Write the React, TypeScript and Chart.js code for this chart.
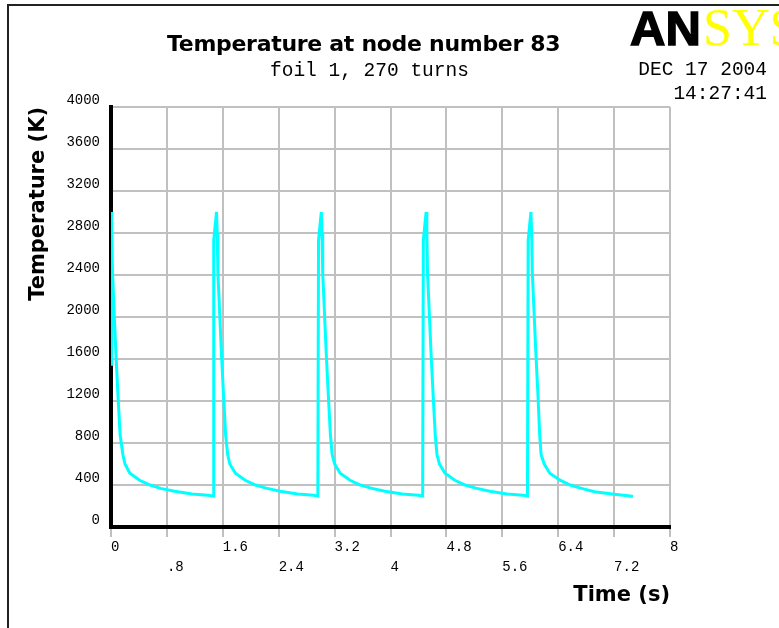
import React, { useEffect, useRef } from "react";
import { Chart, registerables } from "chart.js";

Chart.register(...registerables);

// ---- data (time in s, temperature in K) ----
const timeValues: number[] = [
  0, 0.005, 0.012, 0.022, 0.045, 0.07, 0.1, 0.13, 0.17, 0.2, 0.27, 0.41, 0.56, 0.71, 0.91, 1.16, 1.39, 1.46,
  1.47, 1.51, 1.52, 1.53, 1.555, 1.58, 1.61, 1.64, 1.67, 1.7, 1.78, 1.92, 2.07, 2.22, 2.42, 2.67, 2.9, 2.96,
  2.97, 3.01, 3.02, 3.03, 3.055, 3.08, 3.11, 3.14, 3.165, 3.2, 3.28, 3.42, 3.57, 3.72, 3.92, 4.17, 4.4, 4.46,
  4.47, 4.51, 4.52, 4.53, 4.555, 4.58, 4.61, 4.64, 4.665, 4.7, 4.78, 4.92, 5.07, 5.22, 5.42, 5.67, 5.9, 5.96,
  5.97, 6.01, 6.02, 6.03, 6.055, 6.08, 6.11, 6.135, 6.155, 6.2, 6.28, 6.42, 6.57, 6.72, 6.92, 7.17, 7.4, 7.47,
];
const tempValues: number[] = [
  1550, 3000, 2800, 2420, 2040, 1660, 1250, 880, 690, 600, 512, 445, 400, 368, 340, 314, 302, 296,
  2730, 3000, 2800, 2420, 2040, 1660, 1260, 880, 690, 600, 512, 445, 400, 370, 340, 314, 302, 296,
  2730, 3000, 2800, 2420, 2040, 1660, 1260, 880, 690, 600, 512, 445, 400, 370, 340, 314, 302, 296,
  2730, 3000, 2800, 2420, 2040, 1660, 1260, 880, 690, 600, 512, 445, 400, 370, 340, 314, 302, 296,
  2730, 3000, 2800, 2420, 2040, 1660, 1260, 880, 690, 600, 512, 448, 400, 370, 335, 314, 298, 290,
];

const xTickValues: number[] = [0, 0.8, 1.6, 2.4, 3.2, 4, 4.8, 5.6, 6.4, 7.2, 8];
const xTickLabels: string[] = ["0", ".8", "1.6", "2.4", "3.2", "4", "4.8", "5.6", "6.4", "7.2", "8"];
const yTickValues: number[] = [0, 400, 800, 1200, 1600, 2000, 2400, 2800, 3200, 3600, 4000];
const yTickLabels: string[] = ["0", "400", "800", "1200", "1600", "2000", "2400", "2800", "3200", "3600", "4000"];

const titleText = "Temperature at node number 83";
const subtitleText = "foil 1, 270 turns";
const dateText = "DEC 17 2004";
const timeText = "14:27:41";
const xTitle = "Time (s)";
const yTitle = "Temperature (K)";

export default function App() {
  const ref = useRef<HTMLCanvasElement | null>(null);

  useEffect(() => {
    const canvas = ref.current;
    if (!canvas) return;
    const chart = new Chart(canvas, {
      type: "line",
      data: {
        datasets: [
          {
            data: timeValues.map((t, i) => ({ x: t, y: tempValues[i] })),
            borderColor: "#00ffff",
            backgroundColor: "#00ffff",
            borderWidth: 3,
            pointRadius: 0,
            tension: 0,
            fill: false,
            borderJoinStyle: "miter",
          },
        ],
      },
      options: {
        animation: false,
        responsive: false,
        devicePixelRatio: 1,
        layout: { padding: { top: 107, right: 109, left: 20, bottom: 16 } },
        plugins: {
          legend: { display: false },
          tooltip: { enabled: false },
        },
        scales: {
          x: {
            type: "linear",
            min: 0,
            max: 8,
            afterFit: (s: any) => {
              s.height = 85;
            },
            afterBuildTicks: (s: any) => {
              s.ticks = xTickValues.map((v) => ({ value: v }));
            },
            ticks: {
              autoSkip: false,
              maxRotation: 0,
              minRotation: 0,
              align: "start",
              padding: 0,
              color: "#000",
              font: { family: "Liberation Mono", size: 14, lineHeight: "20px" },
              callback: (_v: any, i: number) => (i % 2 === 0 ? xTickLabels[i] : ["", xTickLabels[i]]),
            },
            grid: {
              color: "#c0c0c0",
              lineWidth: 2,
              drawTicks: true,
              tickLength: 10,
              tickColor: "#c0c0c0",
            },
            border: { display: true, color: "#000", width: 4 },
            title: {
              display: true,
              text: xTitle,
              align: "end",
              color: "#000",
              padding: 4,
              font: { family: "DejaVu Sans", size: 21, weight: "bold" },
            },
          },
          y: {
            type: "linear",
            min: 0,
            max: 4000,
            afterFit: (s: any) => {
              s.width = 91;
            },
            afterBuildTicks: (s: any) => {
              s.ticks = yTickValues.map((v) => ({ value: v }));
            },
            ticks: {
              autoSkip: false,
              align: "end",
              padding: 11,
              color: "#000",
              font: { family: "Liberation Mono", size: 14 },
              callback: (_v: any, i: number) => yTickLabels[i],
            },
            grid: {
              color: "#c0c0c0",
              lineWidth: 2,
              drawTicks: false,
            },
            border: { display: true, color: "#000", width: 4 },
            title: {
              display: true,
              text: yTitle,
              align: "end",
              color: "#000",
              padding: 6,
              font: { family: "DejaVu Sans", size: 21, weight: "bold" },
            },
          },
        },
      },
    } as any);
    return () => chart.destroy();
  }, []);

  return (
    <div
      style={{
        position: "absolute",
        left: 0,
        top: 0,
        width: 779,
        height: 628,
        overflow: "hidden",
        background: "#fff",
      }}
    >
      <div
        style={{
          position: "absolute",
          left: 7,
          top: 4,
          width: 900,
          height: 900,
          borderLeft: "2px solid #222",
          borderTop: "2px solid #222",
        }}
      />
      <canvas
        ref={ref}
        width={779}
        height={628}
        style={{ position: "absolute", left: 0, top: 0, width: 779, height: 628 }}
      />
      <div
        style={{
          position: "absolute",
          left: 167,
          top: 33,
          fontFamily: "DejaVu Sans",
          fontWeight: "bold",
          fontSize: 22,
          lineHeight: "22px",
          letterSpacing: "-0.3px",
          whiteSpace: "nowrap",
          color: "#000",
        }}
      >
        {titleText}
      </div>
      <div
        style={{
          position: "absolute",
          left: 270,
          top: 62,
          fontFamily: "Liberation Mono",
          fontSize: 19.5,
          lineHeight: "19.5px",
          whiteSpace: "nowrap",
          color: "#000",
        }}
      >
        {subtitleText}
      </div>
      <div
        style={{
          position: "absolute",
          right: 12,
          top: 61,
          fontFamily: "Liberation Mono",
          fontSize: 19.5,
          lineHeight: "19.5px",
          whiteSpace: "nowrap",
          textAlign: "right",
          color: "#000",
        }}
      >
        {dateText}
      </div>
      <div
        style={{
          position: "absolute",
          right: 12,
          top: 85,
          fontFamily: "Liberation Mono",
          fontSize: 19.5,
          lineHeight: "19.5px",
          whiteSpace: "nowrap",
          textAlign: "right",
          color: "#000",
        }}
      >
        {timeText}
      </div>
      <div
        style={{
          position: "absolute",
          left: 630,
          top: 3.5,
          fontFamily: "Liberation Sans",
          fontWeight: "bold",
          fontSize: 49,
          lineHeight: "49px",
          whiteSpace: "nowrap",
          color: "#000",
          WebkitTextStroke: "1.5px #000",
        }}
      >
        AN
      </div>
      <div
        style={{
          position: "absolute",
          left: 703,
          top: 1.5,
          fontFamily: "Liberation Serif",
          fontSize: 52,
          lineHeight: "52px",
          whiteSpace: "nowrap",
          color: "#ffff00",
        }}
      >
        SYS
      </div>
    </div>
  );
}
